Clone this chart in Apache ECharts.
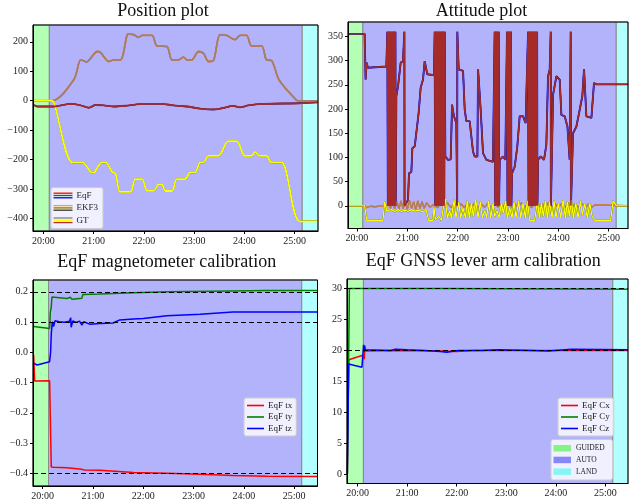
<!DOCTYPE html>
<html><head><meta charset="utf-8">
<script src="https://cdn.jsdelivr.net/npm/echarts@6/dist/echarts.min.js"></script>
<style>html,body{margin:0;padding:0;background:#fff}#c{width:629px;height:503px}</style>
</head><body><div id="c"></div>
<script>
// ---------------- data (time in seconds, shown as mm:ss) ----------------
const xTickValues = [1200, 1260, 1320, 1380, 1440, 1500];
const modeNames = ['GUIDED', 'AUTO', 'LAND'];
const modeStart = [1150, 1207, 1509];
const modeEnd = [1207, 1509, 1560];

// Position plot
const posTicks = [-400, -300, -200, -100, 0, 100, 200];
const posNorth = [[1188.9,0],[1210.7,0],[1236.5,72.7],[1244.4,138.6],[1248.3,135],[1251.5,130.7],[1256.3,144],[1264.2,167],[1268.2,163.6],[1278.1,133],[1284.0,138.6],[1291.9,138.6],[1299.9,224],[1301.9,226],[1307.8,224],[1313.7,215],[1317.7,221.6],[1329.6,221.6],[1335.5,186],[1347.4,184],[1353.4,138.6],[1361.3,138.6],[1367.2,148],[1371.2,138.6],[1377.1,138.6],[1385.1,167],[1391.0,161],[1397.0,133],[1402.9,136],[1410.8,224],[1418.8,221.6],[1428.7,207],[1434.6,221.6],[1442.5,221.6],[1448.5,186],[1460.4,186],[1466.3,138.6],[1472.3,136],[1481.4,70],[1502.0,2],[1506.0,-1],[1527.7,-1]];
const posEast = [[1188.9,0],[1208.7,0],[1212.7,-9],[1234.5,-210],[1246.4,-210],[1256.3,-242],[1260.2,-244],[1264.2,-228],[1270.1,-210],[1274.1,-210],[1282.0,-242],[1286.0,-248],[1291.9,-310],[1303.8,-310],[1309.8,-267],[1317.7,-267],[1323.6,-305],[1331.6,-305],[1337.5,-285],[1341.5,-285],[1345.4,-307],[1353.4,-307],[1359.3,-267],[1369.2,-267],[1375.2,-244],[1381.1,-244],[1387.1,-210],[1391.0,-210],[1397.0,-188],[1408.9,-188],[1420.7,-137.5],[1430.6,-137.5],[1440.6,-188],[1448.5,-188],[1452.4,-174],[1458.4,-188],[1466.3,-188],[1472.3,-210],[1484.2,-210],[1506.0,-410],[1527.7,-410]];
const posDown = [[1188.9,-15],[1192.9,-20],[1212.7,-20],[1232.5,-11],[1244.4,-16],[1254.3,-24],[1262.2,-15],[1272.1,-16],[1284.0,-20],[1299.9,-17],[1319.7,-11],[1339.5,-11],[1355.4,-16],[1371.2,-20],[1387.1,-27],[1402.9,-30],[1412.8,-26],[1426.7,-18],[1434.6,-23],[1444.5,-16],[1462.4,-11],[1506.0,-9],[1527.7,-6]];

// Attitude plot (degrees)
const attTicks = [0, 50, 100, 150, 200, 250, 300, 350];
const attRoll = [[1189.3,0],[1209.1,0],[1211.5,-4],[1216,-1],[1222,-2],[1228,0],[1234,-1],[1237,4],[1240,-5],[1242.5,7],[1245,-6],[1247.5,9],[1250,-7],[1252.5,10],[1255,-6],[1257.5,8],[1260,-7],[1262.5,11],[1265,-5],[1267.5,8],[1270,-8],[1272.5,10],[1275,-6],[1277.5,9],[1280,-5],[1283,6],[1287,-3],[1291,2],[1296,-4],[1300,5],[1304,-3],[1308,6],[1312,-4],[1316,5],[1320,-3],[1324,4],[1328,-4],[1332,6],[1336,-3],[1340,5],[1344,-4],[1348,4],[1352,-3],[1356,5],[1360,-4],[1364,6],[1368,-3],[1372,4],[1376,-4],[1380,5],[1384,-3],[1388,4],[1392,-4],[1396,6],[1400,-3],[1404,5],[1408,-4],[1412,4],[1416,-3],[1420,5],[1424,-4],[1428,6],[1432,-3],[1436,4],[1440,-4],[1444,5],[1448,-3],[1452,6],[1456,-4],[1460,4],[1464,-3],[1468,5],[1472,-4],[1476,4],[1480,-3],[1484,2],[1486,0],[1523,0]];
const attPitch = [[1189.3,0],[1209.1,0],[1211.5,-30],[1231.0,-30],[1233.0,8],[1235.4,-10],[1240.9,-8],[1244.9,-12],[1248.9,-8],[1252.9,-12],[1256.8,-9],[1260.8,-12],[1264.8,-8],[1268.8,-11],[1272.7,-9],[1276.7,-12],[1282.7,-10],[1285.4,-30],[1290.6,-30],[1291.8,-3],[1293.4,-28],[1297.4,-22],[1300.5,-30],[1302.9,-5],[1305.3,14],[1307.7,-25],[1310.5,-10],[1312.5,-25],[1315.7,12],[1318.0,-25],[1321.2,8],[1323.6,-25],[1326.4,-5],[1329.2,-25],[1331.5,10],[1333.9,-25],[1336.3,5],[1338.7,-22],[1341.5,12],[1344.3,-25],[1347.0,8],[1349.4,-25],[1352.2,-10],[1354.6,-25],[1357.0,10],[1359.4,-25],[1362.1,5],[1364.1,-22],[1366.9,-10],[1369.3,-25],[1372.1,5],[1374.5,-15],[1377.2,10],[1379.2,-25],[1382.0,-5],[1384.8,-25],[1387.2,8],[1389.6,-25],[1392.7,10],[1395.1,-25],[1397.9,5],[1400.7,-25],[1403.1,10],[1405.9,-30],[1411.8,-30],[1415.0,10],[1417.4,-25],[1419.8,5],[1422.1,-22],[1424.5,10],[1426.9,-25],[1429.7,8],[1432.5,-25],[1434.9,10],[1437.2,-25],[1440.0,5],[1442.8,-25],[1445.6,12],[1448.4,-25],[1450.8,8],[1453.1,-22],[1455.5,12],[1457.9,-25],[1460.7,5],[1463.5,-25],[1466.3,10],[1468.6,-20],[1471.4,5],[1474.6,-25],[1477.4,5],[1480.2,-22],[1483.3,-30],[1502.4,-30],[1505.2,10],[1507.2,5],[1509.2,0],[1523.1,0]];
const attYaw = [[1189.3,355.5],[1209.1,355.5],[1210.3,261],[1211.5,296],[1213.1,285.5],[1215.1,289],[1235.0,288],
 [1236.2,360],[1236.8,0],[1237.4,360],[1238.0,0],[1238.6,360],[1239.2,0],[1239.8,360],[1240.4,0],[1241.0,360],[1241.6,0],[1242.2,360],[1242.8,0],[1243.4,360],[1244.0,0],[1244.6,360],[1245.2,0],[1245.8,360],[1246.1,0],
 [1246.9,226.6],[1248.9,247],[1252.1,296],[1254.8,299],[1256.5,360],[1256.7,0],[1260.8,12],[1262.0,67],[1264.8,70],[1266.0,119],[1268.8,123],[1270.7,150],[1273.5,192],[1275.9,244],[1278.7,261],[1280.7,299],[1283.8,272],[1291.8,270],
 [1292.6,360],[1293.2,0],[1293.8,360],[1294.4,0],[1295.0,360],[1295.6,0],[1296.2,360],[1296.8,0],[1297.4,360],[1298.0,0],[1298.6,360],[1299.2,0],[1299.8,360],[1300.4,0],[1301.0,360],[1301.6,0],[1302.2,360],[1302.8,0],[1303.4,360],[1304.0,0],[1304.5,360],
 [1305.3,102],[1308.5,95],[1311.7,96],[1313.3,209],[1315.6,185],[1318.4,171],[1319.4,0],[1319.6,360],[1321.2,282],[1326.4,279],[1328.4,199],[1330.3,175],[1334.3,175],[1338.3,112],[1340.3,102],[1343.5,102],[1344.3,282],[1345.1,261],[1347.4,199],[1350.2,109],[1354.2,95],[1362.1,91],
 [1364.1,360],[1364.7,0],[1365.3,360],[1365.9,0],[1366.5,360],[1367.1,0],[1367.7,360],[1368.3,0],[1368.9,360],[1369.3,0],
 [1370.1,95],[1374.1,102],[1376.8,95],
 [1378.8,360],[1379.4,0],[1380.0,360],[1380.6,0],[1381.2,360],[1381.8,0],[1382.4,360],[1383.0,0],[1383.6,360],[1384.0,0],
 [1384.8,67],[1388.0,81],[1391.1,123],[1393.9,185],[1397.9,185],[1401.0,171],
 [1403.9,360],[1404.5,0],[1405.1,360],[1405.7,0],[1406.3,360],[1406.9,0],[1407.5,360],[1408.1,0],[1408.7,360],[1409.3,0],[1409.9,360],[1410.5,0],[1411.1,360],[1411.7,0],[1412.3,360],[1412.9,0],[1413.5,360],[1414.1,0],[1414.7,360],[1415.0,0],
 [1415.8,95],[1419.0,102],[1422.9,95],[1425.7,126],[1427.7,268],[1429.7,282],[1430.9,360],[1431.1,0],[1433.7,230],[1437.7,268],[1441.6,261],[1443.6,188],[1447.6,185],[1450.8,164],[1453.5,95],[1454.7,360],[1455.0,0],[1457.5,150],[1461.5,164],[1465.5,199],[1468.6,227],[1470.6,282],[1473.4,185],[1479.4,182],[1482.5,254],[1485.3,251],[1523.1,251]];

// EqF magnetometer calibration
const magTicks = [-0.4, -0.3, -0.2, -0.1, 0.0, 0.1, 0.2];
const magRef = [0.2, 0.1, -0.4];
const magTx = [[1189.3,-0.01],[1190.5,-0.095],[1208.3,-0.094],[1210.3,-0.379],[1213.1,-0.380],[1229.0,-0.382],[1246.8,-0.387],[1250,-0.389],[1268.6,-0.390],[1308.3,-0.397],[1348.0,-0.400],[1387.7,-0.403],[1427.4,-0.407],[1467.0,-0.410],[1527.5,-0.411]];
const magTy = [[1189.3,0.085],[1208.3,0.079],[1209.1,0.13],[1210.3,0.15],[1211.1,0.183],[1213.1,0.180],[1229.0,0.178],[1233,0.182],[1235,0.175],[1237,0.180],[1246.8,0.179],[1248,0.191],[1268.6,0.193],[1308.3,0.197],[1348.0,0.200],[1427.4,0.203],[1467.0,0.204],[1527.5,0.204]];
const magTz = [[1189.3,-0.036],[1193.3,-0.042],[1208.3,-0.031],[1209.5,0.0],[1210.3,0.06],[1211.5,0.101],[1213,0.085],[1214.7,0.104],[1220,0.101],[1226,0.099],[1232,0.103],[1233.5,0.114],[1234,0.083],[1236,0.104],[1240,0.099],[1244,0.103],[1246.8,0.090],[1249,0.101],[1256,0.093],[1268.6,0.095],[1284,0.097],[1292,0.107],[1308.3,0.110],[1320,0.112],[1348,0.121],[1388,0.126],[1427,0.133],[1467,0.133],[1527.5,0.133]];

// EqF GNSS lever arm calibration
const gnssTicks = [0, 5, 10, 15, 20, 25, 30];
const gnssRef = [30, 20];
const gnssCx = [[1187.5,0],[1189.3,18.5],[1205.2,19.2],[1207.2,19.2],[1208.0,18.6],[1208.5,19.9],[1209.3,20.0],[1245,20.0],[1300,19.9],[1320,19.85],[1340,20.0],[1400,20.0],[1527.4,20.0]];
const gnssCy = [[1187.5,0],[1190.0,30.0],[1300,30.0],[1527.4,29.9]];
const gnssCz = [[1187.5,0],[1189.1,17.8],[1205.2,17.3],[1206.4,19.5],[1207.2,20.9],[1208.0,19.8],[1208.5,20.8],[1209.3,20.1],[1211.3,20.1],[1240,20.0],[1245.5,20.2],[1260,20.1],[1281.7,20.0],[1300,19.85],[1307.9,19.7],[1318,19.9],[1322,20.0],[1350.2,20.0],[1370.3,20.1],[1410.6,20.0],[1430.7,19.9],[1458.9,20.2],[1527.4,20.1]];

// ---------------- chart ----------------
const FONT = '"Liberation Serif","DejaVu Serif",serif';
const modeFill = ['#b3ffb3', '#b3b3fb', '#b3ffff'];
const modeLegendFill = ['#86f386', '#8787f5', '#86f5f5'];
const grids = [
  {left: 33, top: 25, width: 285, height: 206},
  {left: 348, top: 22, width: 280, height: 206.5},
  {left: 33, top: 280, width: 284.5, height: 206},
  {left: 347, top: 279, width: 281, height: 204.5}
];
const xRanges = [[1187.5, 1527.8], [1189.3, 1523.0], [1188.5, 1527.8], [1187.1, 1527.4]];
const yRanges = [[-443, 257], [-47, 380], [-0.442, 0.239], [-1.5, 31.55]];
const yTickSets = [posTicks, attTicks, magTicks, gnssTicks];
const yDec = [0, 0, 1, 0];

function fmtTime(v) { const m = Math.floor(v / 60 + 1e-9); const s = Math.round(v - m * 60); return m + ':' + String(s).padStart(2, '0'); }
function fmtNum(v, d) { const s = Math.abs(v).toFixed(d); return (v < -1e-9 ? '\u2212' : '') + s; }

const labelStyle = {fontFamily: FONT, fontSize: 10, color: '#222'};
const xAxis = grids.map((g, i) => ({
  type: 'value', gridIndex: i, min: xRanges[i][0], max: xRanges[i][1], z: 10,
  axisLine: {show: true, onZero: false, lineStyle: {color: '#000', width: 1}},
  axisTick: {show: true, customValues: xTickValues, length: 3, lineStyle: {color: '#000'}},
  axisLabel: Object.assign({customValues: xTickValues, margin: 5, formatter: fmtTime}, labelStyle),
  splitLine: {show: false}
}));
const yAxis = grids.map((g, i) => ({
  type: 'value', gridIndex: i, min: yRanges[i][0], max: yRanges[i][1], z: 10,
  axisLine: {show: true, onZero: false, lineStyle: {color: '#000', width: 1}},
  axisTick: {show: true, customValues: yTickSets[i], length: 3, lineStyle: {color: '#000'}},
  axisLabel: Object.assign({customValues: yTickSets[i], margin: 5, formatter: v => fmtNum(v, yDec[i])}, labelStyle),
  splitLine: {show: false}
}));

const series = [];
grids.forEach((g, i) => {
  series.push({
    type: 'line', name: 'modes' + i, xAxisIndex: i, yAxisIndex: i, data: [], z: 1, silent: true,
    markArea: {
      silent: true,
      data: modeNames.map((n, k) => [
        {xAxis: modeStart[k], itemStyle: {color: modeFill[k], borderColor: '#8a8a8a', borderWidth: 1}},
        {xAxis: modeEnd[k]}
      ])
    }
  });
});
function line(name, gi, data, color, width, z, extra) {
  series.push(Object.assign({
    type: 'line', name: name, xAxisIndex: gi, yAxisIndex: gi, data: data,
    symbol: 'none', showSymbol: false, silent: true, z: z || 3,
    lineStyle: {color: color, width: width || 1.5}, itemStyle: {color: color}
  }, extra || {}));
}
// Position: EqF, EKF3 and GT estimates overlap
const posComp = [posNorth, posEast, posDown];
const eqfCol = ['#ff0000', '#008000', '#0000ff'];
const ekfCol = ['#ffa500', '#8b7d00', '#333333'];
const gtCol = ['#a08070', '#ffff00', '#a52a2a'];
const sm = {smooth: 0.3};
posComp.forEach((d, k) => line('pos EqF ' + k, 0, d, eqfCol[k], 1.4, 3, sm));
posComp.forEach((d, k) => line('pos EKF3 ' + k, 0, d, ekfCol[k], 1.4, 4, sm));
posComp.forEach((d, k) => line('pos GT ' + k, 0, d, gtCol[k], 1.8, 5, sm));
// Attitude
const attComp = [attRoll, attPitch, attYaw];
attComp.forEach((d, k) => line('att EqF ' + k, 1, d, eqfCol[k], k === 2 ? 1.9 : 1.3, 3));
attComp.forEach((d, k) => line('att EKF3 ' + k, 1, d, ekfCol[k], 1.3, 4));
attComp.forEach((d, k) => line('att GT ' + k, 1, d, gtCol[k], k === 2 ? 1.4 : 1.2, 5));
// magnetometer
series.push({type: 'line', name: 'magref', xAxisIndex: 2, yAxisIndex: 2, data: [], z: 6, silent: true,
  markLine: {silent: true, symbol: 'none', label: {show: false},
    lineStyle: {color: '#000', type: [5, 3], width: 1.2}, data: magRef.map(v => ({yAxis: v}))}});
line('EqF tx', 2, magTx, '#ff0000', 1.5, 4);
line('EqF ty', 2, magTy, '#008000', 1.5, 4);
line('EqF tz', 2, magTz, '#0000ff', 1.5, 4);
// GNSS
series.push({type: 'line', name: 'gnssref', xAxisIndex: 3, yAxisIndex: 3, data: [], z: 6, silent: true,
  markLine: {silent: true, symbol: 'none', label: {show: false},
    lineStyle: {color: '#000', type: [5, 3], width: 1.2}, data: gnssRef.map(v => ({yAxis: v}))}});
line('EqF Cx', 3, gnssCx, '#ff0000', 1.5, 4);
line('EqF Cy', 3, gnssCy, '#008000', 1.5, 4);
line('EqF Cz', 3, gnssCz, '#0000ff', 1.5, 4);

const legendBase = {
  orient: 'vertical', icon: 'rect', itemWidth: 17, itemHeight: 1.6, itemGap: 2.5,
  padding: [3, 4, 3, 3], backgroundColor: 'rgba(255,255,255,0.8)', borderColor: '#cccccc',
  borderWidth: 1, borderRadius: 2, selectedMode: false, z: 20,
  textStyle: {fontFamily: FONT, fontSize: 9, color: '#222', padding: [0, 0, 0, -1]}
};
const legend = [
  Object.assign({}, legendBase, {data: ['EqF tx', 'EqF ty', 'EqF tz'], left: 244, top: 398}),
  Object.assign({}, legendBase, {data: ['EqF Cx', 'EqF Cy', 'EqF Cz'], left: 558, top: 398})
];

// titles and non-series legends
const titles = [['Position plot', 163, 11], ['Attitude plot', 481.5, 11], ['EqF magnetometer calibration', 166.7, 262], ['EqF GNSS lever arm calibration', 483.3, 261]];
const graphic = titles.map(t => ({type: 'text', x: t[1], y: t[2], z: 20,
  style: {text: t[0], font: '18px ' + FONT, fill: '#111', textAlign: 'center', textVerticalAlign: 'middle'}}));
// Position legend with three-line handles
const posLegendLabels = ['EqF', 'EKF3', 'GT'];
const posLegendCols = [eqfCol, ekfCol, ['#808080', '#ffff00', '#b03030']];
graphic.push({type: 'rect', z: 20, shape: {x: 51, y: 187.5, width: 52, height: 41, r: 2}, style: {fill: 'rgba(255,255,255,0.8)', stroke: '#cccccc', lineWidth: 1}});
posLegendLabels.forEach((lab, r) => {
  const cy = 195.5 + r * 12.4;
  posLegendCols[r].forEach((c, j) => graphic.push({type: 'line', z: 21, shape: {x1: 53.5, y1: cy - 2.3 + j * 2.3, x2: 72.5, y2: cy - 2.3 + j * 2.3}, style: {stroke: c, lineWidth: 1.3}}));
  graphic.push({type: 'text', z: 21, x: 76.5, y: cy, style: {text: lab, font: '9px ' + FONT, fill: '#222', textVerticalAlign: 'middle'}});
});
// flight-mode legend
graphic.push({type: 'rect', z: 20, shape: {x: 551, y: 439.5, width: 61.5, height: 40.5, r: 2}, style: {fill: 'rgba(255,255,255,0.8)', stroke: '#cccccc', lineWidth: 1}});
modeNames.forEach((n, k) => {
  const y0 = 445 + k * 11.7;
  graphic.push({type: 'rect', z: 21, shape: {x: 553.5, y: y0, width: 17.5, height: 6.5}, style: {fill: modeLegendFill[k]}});
  graphic.push({type: 'text', z: 21, x: 576, y: y0 + 3.5, style: {text: n, font: '7.5px ' + FONT, fill: '#222', textVerticalAlign: 'middle'}});
});

const chart = echarts.init(document.getElementById('c'), null, {renderer: 'canvas'});
chart.setOption({
  animation: false,
  backgroundColor: '#ffffff',
  grid: grids.map(g => Object.assign({show: true, borderColor: '#000', borderWidth: 1, backgroundColor: 'transparent', z: 10}, g)),
  xAxis: xAxis, yAxis: yAxis, series: series, legend: legend, graphic: graphic
});
</script></body></html>
